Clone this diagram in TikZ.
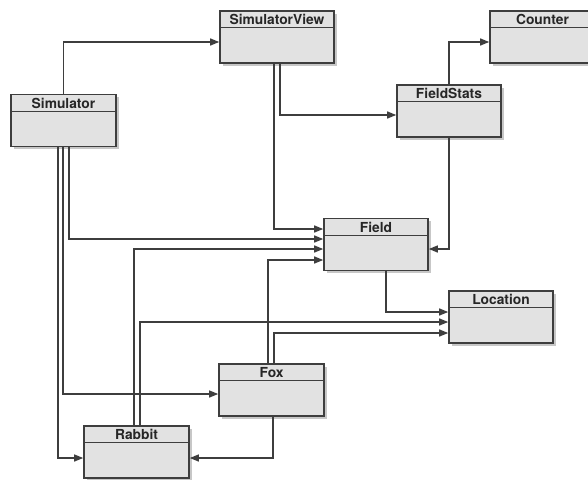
\documentclass[tikz,border=0pt]{standalone}
\usepackage{fontspec}
\setsansfont{TeX Gyre Heros}
\usetikzlibrary{arrows.meta,shadows}
\definecolor{boxfill}{RGB}{226,226,226}
\definecolor{boxline}{RGB}{62,62,62}

\begin{document}
\begin{tikzpicture}[x=1pt, y=-1pt,
    cls/.style={draw=boxline, line width=1.6pt, fill=boxfill,
      drop shadow={shadow xshift=2.5pt, shadow yshift=-2.5pt, fill=black, opacity=0.22},
      minimum width=#1, inner xsep=0pt, inner ysep=3.7pt,
      text height=10pt, text depth=34.6pt,
      font=\fontsize{13.8}{16}\selectfont\sffamily\bfseries, text=black!85},
    hdr/.style={draw=boxline, line width=1.2pt},
    dep/.style={draw=boxline, line width=1.3pt, -{Triangle[length=9pt,width=7pt]}}]
    \useasboundingbox (0,0) rectangle (588,479);

    % class boxes: name / centre x / centre y / width / title
    \foreach \name/\x/\y/\w/\title in {
      simview/277/37/114/SimulatorView,
      sim/63.5/120.5/105/Simulator,
      counter/542.5/37/105/Counter,
      fstats/449/111/104/FieldStats,
      field/376/244.5/104/Field,
      location/501/317/104/Location,
      fox/271.5/390/105/Fox,
      rabbit/136.5/452/105/Rabbit} {
        \node[cls=\w pt] (\name) at (\x,\y) {\title};
        % header line
        \draw[hdr] ([yshift=-17.5pt]\name.north west) -- ([yshift=-17.5pt]\name.north east);
      }

    % dependencies: from / x offset / to / y offset
    \foreach \from/\dx/\to/\dy in {
      sim.north/0/simview.west/-5,
      simview.south/3/fstats.west/-4,
      simview.south/-3/field.west/15.5,
      sim.south/5.5/field.west/5.5,
      rabbit.north/-2.5/field.west/-4.5,
      fox.north/-3.5/field.west/-15.5,
      rabbit.north/3.5/location.west/-5,
      fox.north/2.5/location.west/-16,
      field.south/10/location.west/5,
      sim.south/-0.5/fox.west/-4,
      sim.south/-5.5/rabbit.west/-6,
      fstats.north/0/counter.west/-5,
      fstats.south/0/field.east/-4.5,
      fox.south/1.5/rabbit.east/-6} {
        \draw[dep] ([xshift=\dx pt]\from) |- ([yshift=\dy pt]\to);
      }
  \end{tikzpicture}
\end{document}
